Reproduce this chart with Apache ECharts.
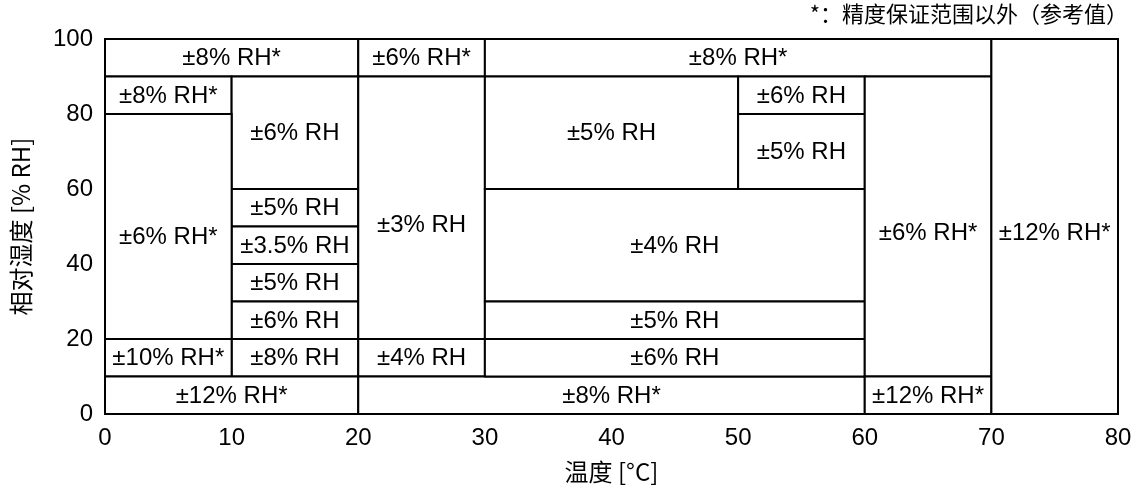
<!DOCTYPE html>
<html>
<head>
<meta charset="utf-8">
<script src="https://cdn.jsdelivr.net/npm/echarts@6/dist/echarts.min.js"></script>
<style>
  html, body { margin: 0; padding: 0; background: #fff; }
  #chart { width: 1137px; height: 490px; }
</style>
</head>
<body>
<div id="chart"></div>
<script>
// accuracy zones: temperature range [x0, x1], humidity range [y0, y1]
const zoneX0 = [0, 20, 30, 0, 10, 10, 10, 10, 10, 10, 0, 0, 0, 20, 20, 20, 30, 50, 50, 30, 30, 30, 60, 60, 70]
const zoneX1 = [20, 30, 70, 10, 20, 20, 20, 20, 20, 20, 10, 10, 20, 30, 30, 60, 50, 60, 60, 60, 60, 60, 70, 70, 80]
const zoneY0 = [90, 90, 90, 80, 60, 50, 40, 30, 20, 10, 20, 10, 0, 20, 10, 0, 60, 80, 60, 30, 20, 10, 10, 0, 0]
const zoneY1 = [100, 100, 100, 90, 90, 60, 50, 40, 30, 20, 80, 20, 10, 90, 20, 10, 90, 90, 80, 60, 30, 20, 90, 10, 100]
const zoneLabels = [
  '±8% RH*', '±6% RH*', '±8% RH*', '±8% RH*', '±6% RH', '±5% RH', '±3.5% RH', '±5% RH', '±6% RH', '±8% RH',
  '±6% RH*', '±10% RH*', '±12% RH*', '±3% RH', '±4% RH', '±8% RH*', '±5% RH', '±6% RH', '±5% RH', '±4% RH',
  '±5% RH', '±6% RH', '±6% RH*', '±12% RH*', '±12% RH*'
]
// humidity where the label sits (null = middle of the zone)
const labelY = [null, null, null, null, null, null, null, null, null, null,
  47.5, null, null, 50.5, null, null, null, null, null, null,
  null, null, 48.5, null, 48.5]

const xTicks = [0, 10, 20, 30, 40, 50, 60, 70, 80]
const yTicks = [0, 20, 40, 60, 80, 100]

const chart = echarts.init(document.getElementById('chart'))

const zones = zoneLabels.map((label, i) => [
  zoneX0[i], zoneX1[i], zoneY0[i], zoneY1[i],
  labelY[i] == null ? (zoneY0[i] + zoneY1[i]) / 2 : labelY[i],
  label
])

const font = "'Liberation Sans', Arial, sans-serif"
const cjk = "'Noto Sans CJK SC', sans-serif"

const option = {
  animation: false,
  backgroundColor: '#fff',
  title: {
    text: '*：精度保证范围以外（参考值）',
    right: 4,
    top: -2,
    textStyle: { fontFamily: cjk, fontSize: 22, fontWeight: 'normal', color: '#000' }
  },
  grid: { left: 105, right: 19, top: 39, bottom: 76 },
  xAxis: {
    type: 'value',
    min: 0,
    max: 80,
    interval: 10,
    name: '温度 [°C]',
    nameLocation: 'middle',
    nameGap: 46,
    nameTextStyle: { fontFamily: cjk, fontSize: 24, color: '#000' },
    axisLine: { show: true, lineStyle: { color: '#000', width: 2 } },
    axisTick: { show: false },
    splitLine: { show: false },
    axisLabel: {
      fontFamily: font, fontSize: 24, color: '#000', margin: 12,
      formatter: (v) => (xTicks.includes(v) ? String(v) : '')
    }
  },
  yAxis: {
    type: 'value',
    min: 0,
    max: 100,
    interval: 20,
    name: '相对湿度 [% RH]',
    nameLocation: 'middle',
    nameGap: 72,
    nameTextStyle: { fontFamily: cjk, fontSize: 24, color: '#000' },
    axisLine: { show: true, lineStyle: { color: '#000', width: 2 } },
    axisTick: { show: false },
    splitLine: { show: false },
    axisLabel: {
      fontFamily: font, fontSize: 24, color: '#000', margin: 12,
      formatter: (v) => (yTicks.includes(v) ? String(v) : '')
    }
  },
  series: [
    {
      type: 'custom',
      data: zones,
      encode: { x: [0, 1], y: [2, 3] },
      renderItem: (params, api) => {
        const p0 = api.coord([api.value(0), api.value(3)])
        const p1 = api.coord([api.value(1), api.value(2)])
        const mid = api.coord([(api.value(0) + api.value(1)) / 2, api.value(4)])
        return {
          type: 'group',
          children: [
            {
              type: 'rect',
              shape: { x: p0[0], y: p0[1], width: p1[0] - p0[0], height: p1[1] - p0[1] },
              style: { fill: '#fff', stroke: '#000', lineWidth: 2 }
            },
            {
              type: 'text',
              x: mid[0],
              y: mid[1] + 1,
              style: {
                text: zones[params.dataIndex][5],
                fontFamily: font,
                fontSize: 24,
                fill: '#000',
                align: 'center',
                verticalAlign: 'middle'
              }
            }
          ]
        }
      }
    }
  ]
}

chart.setOption(option)
window.addEventListener('resize', () => chart.resize())
</script>
</body>
</html>
